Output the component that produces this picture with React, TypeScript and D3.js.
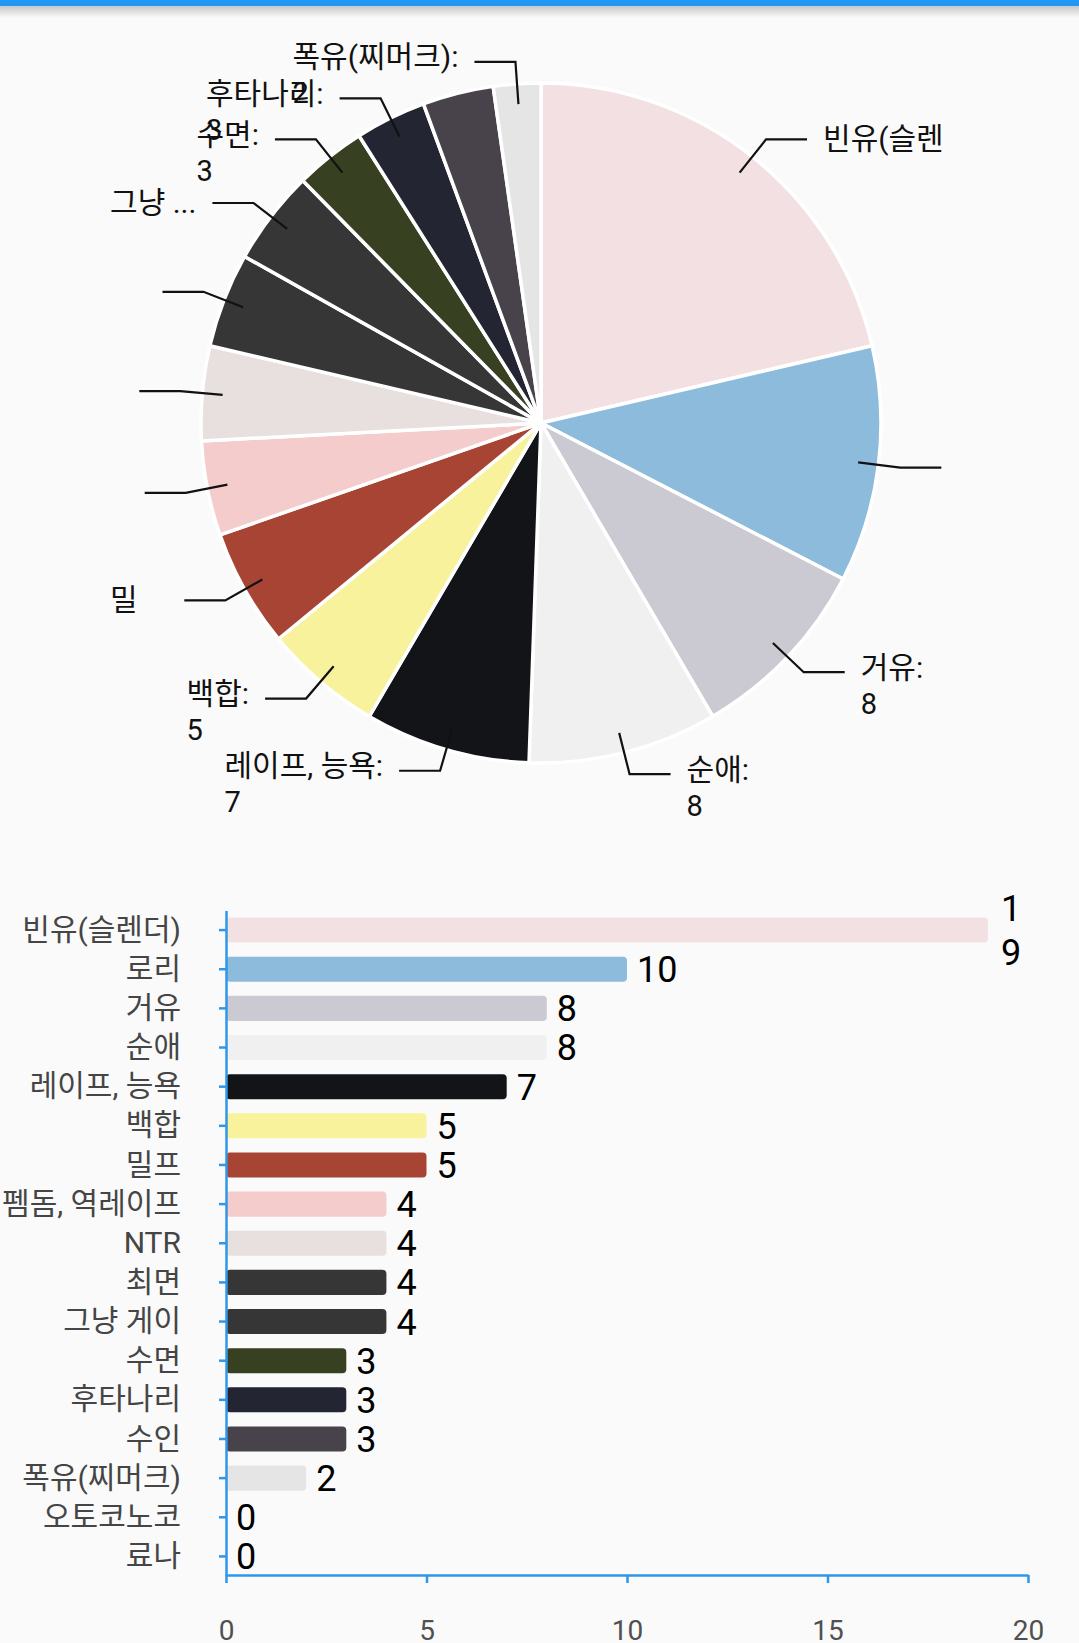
import React, { useRef, useEffect } from 'react';
import * as d3 from 'd3';

const categories = [
  '빈유(슬렌더)', '로리', '거유', '순애', '레이프, 능욕', '백합', '밀프',
  '펨돔, 역레이프', 'NTR', '최면', '그냥 게이', '수면', '후타나리', '수인',
  '폭유(찌머크)', '오토코노코', '료나',
];
const values = [19, 10, 8, 8, 7, 5, 5, 4, 4, 4, 4, 3, 3, 3, 2, 0, 0];
const colors = [
  '#f2e0e2', '#8dbbdb', '#cbcad3', '#f0f0f0', '#121418', '#f7f29b', '#a84434',
  '#f3cccb', '#e7e0df', '#363636', '#363636', '#384022', '#232532', '#48434a',
  '#e5e5e5', '#dddddd', '#dddddd',
];
// pie labels as the layout shows them (clipped / ellipsized). null = no label at all
const pieLabelTitles: (string | null)[] = [
  '빈유(슬렌', '', '거유:', '순애:', '레이프, 능욕:', '백합:', '밀\u2003', '', '', '',
  '그냥 ...', '수면:', '후타나리:', null, '폭유(찌머크):',
];
const pieLabelShowValue = [
  false, false, true, true, true, true, false, false, false, false,
  false, true, true, false, true,
];
const xTicks = [0, 5, 10, 15, 20];

const W = 1079;
const H = 1643;
const FONT = "Roboto, 'Noto Sans CJK KR', sans-serif";

const App: React.FC = () => {
  const svgRef = useRef<SVGSVGElement>(null);

  useEffect(() => {
    if (!svgRef.current) return;
    const svg = d3.select(svgRef.current);
    svg.selectAll('*').remove();

    svg.append('rect').attr('width', W).attr('height', H).attr('fill', '#fafafa');

    // app bar edge + shadow
    const defs = svg.append('defs');
    const grad = defs.append('linearGradient').attr('id', 'shadow')
      .attr('x1', 0).attr('x2', 0).attr('y1', 0).attr('y2', 1);
    grad.append('stop').attr('offset', '0%').attr('stop-color', 'rgba(0,0,0,0.2)');
    grad.append('stop').attr('offset', '100%').attr('stop-color', 'rgba(0,0,0,0)');
    svg.append('rect').attr('y', 6).attr('width', W).attr('height', 12).attr('fill', 'url(#shadow)');
    svg.append('rect').attr('width', W).attr('height', 6).attr('fill', '#2196f3');

    // ---- pie ----
    const cx = 541, cy = 423, R = 340;
    const pieData = values.map((v, i) => ({ v, i })).filter(d => d.v > 0);
    const arcs = d3.pie<{ v: number; i: number }>().sort(null).value(d => d.v)(pieData);
    const arc = d3.arc<d3.PieArcDatum<{ v: number; i: number }>>().innerRadius(0).outerRadius(R);
    const gp = svg.append('g').attr('transform', `translate(${cx},${cy})`);

    gp.selectAll('path.slice').data(arcs).join('path')
      .attr('class', 'slice')
      .attr('d', arc)
      .attr('fill', d => colors[d.data.i])
      .attr('stroke', '#fff')
      .attr('stroke-width', 3.5)
      .attr('stroke-linejoin', 'round');

    const inner = d3.arc<d3.PieArcDatum<{ v: number; i: number }>>().innerRadius(R * 0.94).outerRadius(R * 0.94);
    const elbow = d3.arc<d3.PieArcDatum<{ v: number; i: number }>>().innerRadius(R * 1.065).outerRadius(R * 1.065);

    arcs.forEach((d, k) => {
      const title = pieLabelTitles[k];
      if (title === null) return;
      const [x0, y0] = inner.centroid(d);
      const [x1, y1] = elbow.centroid(d);
      const right = x1 > 0;
      const x2 = right ? x1 + 41 : x1 - 41;
      gp.append('polyline')
        .attr('points', `${x0},${y0} ${x1},${y1} ${x2},${y1}`)
        .attr('fill', 'none')
        .attr('stroke', '#111')
        .attr('stroke-width', 2.2);
      if (!title) return;

      const showVal = pieLabelShowValue[k];
      const ty = showVal ? y1 - 5 : y1 - 1;
      const tx = right ? x2 + 16 : x2 - 16;
      const t = gp.append('text')
        .attr('x', tx).attr('y', ty)
        .attr('dy', '0.35em')
        .attr('text-anchor', right ? 'start' : 'end')
        .attr('font-family', FONT)
        .attr('font-size', 30)
        .attr('fill', '#111')
        .style('white-space', 'pre')
        .text(title);
      if (showVal) {
        const w = (t.node() as SVGTextElement).getComputedTextLength();
        gp.append('text')
          .attr('x', right ? tx : tx - w)
          .attr('y', ty + 36.5)
          .attr('dy', '0.35em')
          .attr('font-family', FONT)
          .attr('font-size', 29)
          .attr('fill', '#111')
          .text(String(values[d.data.i]));
      }
    });

    // ---- bars ----
    const x = d3.scaleLinear().domain([0, 20]).range([226, 1028]);
    const y = d3.scaleBand<string>().domain(categories).range([910.5, 1576])
      .paddingInner(0.36).paddingOuter(0.18);
    const gb = svg.append('g');

    gb.selectAll('rect.bar').data(categories).join('rect')
      .attr('class', 'bar')
      .attr('x', x(0))
      .attr('y', d => y(d)!)
      .attr('width', (_, i) => x(values[i]) - x(0))
      .attr('height', y.bandwidth())
      .attr('rx', 4)
      .attr('fill', (_, i) => colors[i]);

    categories.forEach((c, i) => {
      const yc = y(c)! + y.bandwidth() / 2;
      const t = gb.append('text')
        .attr('x', x(values[i]) + 10)
        .attr('font-family', FONT)
        .attr('font-size', 36)
        .attr('fill', '#000');
      const s = String(values[i]);
      if (values[i] >= 19) {
        // no room on the right: the label wraps one digit per line
        s.split('').forEach((ch, j, arr) => {
          t.append('tspan')
            .attr('x', x(values[i]) + 13)
            .attr('y', yc + (j - (arr.length - 1) / 2) * 44)
            .attr('dy', '0.36em')
            .text(ch);
        });
      } else {
        t.attr('y', yc).attr('dy', '0.36em').text(s);
      }
    });

    const axisColor = '#2f96e8';
    const yAxis = gb.append('g')
      .attr('transform', `translate(${x(0)},0)`)
      .call(d3.axisLeft(y).tickSize(7).tickSizeOuter(0).tickPadding(38));
    yAxis.selectAll('text')
      .attr('font-family', FONT).attr('font-size', 30).attr('fill', '#454545');

    const xAxis = gb.append('g')
      .attr('transform', `translate(0,${y.range()[1] - 1})`)
      .call(d3.axisBottom(x).tickValues(xTicks).tickSize(8).tickSizeOuter(0).tickPadding(37));
    xAxis.selectAll('text')
      .attr('font-family', FONT).attr('font-size', 28).attr('fill', '#505050');

    [yAxis, xAxis].forEach(a => {
      a.select('.domain').attr('stroke', axisColor).attr('stroke-width', 2.5);
      a.selectAll('.tick line').attr('stroke', axisColor).attr('stroke-width', 2.5);
    });
  }, []);

  return (
    <svg
      ref={svgRef}
      width={W}
      height={H}
      style={{ position: 'absolute', left: 0, top: 0, display: 'block' }}
    />
  );
};

export default App;
